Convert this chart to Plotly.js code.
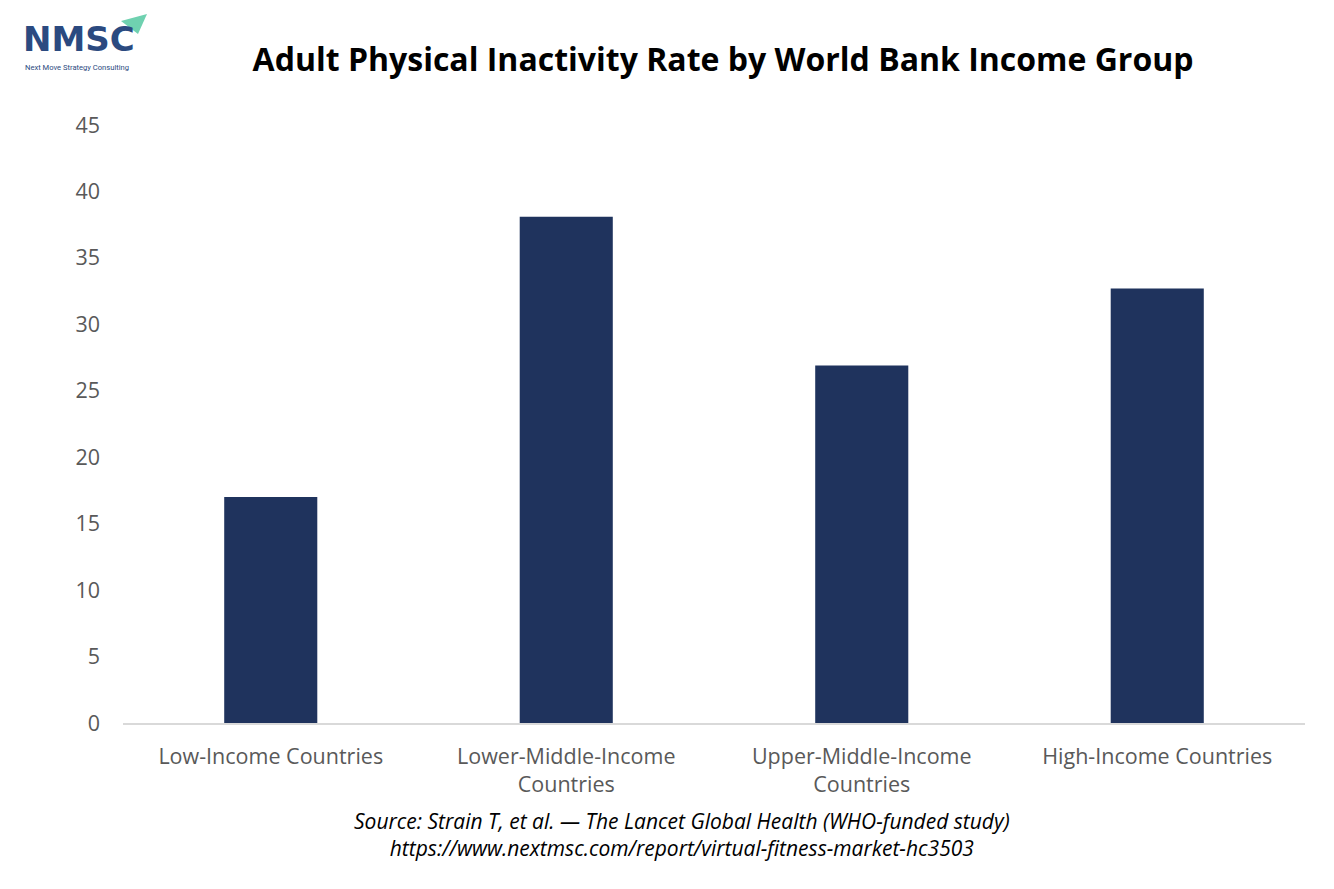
<!DOCTYPE html>
<html>
<head>
<meta charset="utf-8">
<script src="https://cdn.plot.ly/plotly-3.0.1.min.js"></script>
<style>html,body{margin:0;padding:0;background:#fff;}#chart{width:1334px;height:889px;}</style>
</head>
<body>
<div id="chart"></div>
<script>
const categories = [
  "Low-Income Countries",
  "Lower-Middle-Income<br>Countries",
  "Upper-Middle-Income<br>Countries",
  "High-Income Countries"
];
const inactivityRate = [17.0, 38.1, 26.9, 32.7];
const yTicks = [0, 5, 10, 15, 20, 25, 30, 35, 40, 45];
const titleText = "Adult Physical Inactivity Rate by World Bank Income Group";
const sourceLines = [
  "Source: Strain T, et al. — The Lancet Global Health (WHO-funded study)",
  "https://www.nextmsc.com/report/virtual-fitness-market-hc3503"
];

const trace = {
  type: "bar",
  x: categories,
  y: inactivityRate,
  marker: {color: "#1f335d"},
  hoverinfo: "x+y"
};

const layout = {
  width: 1334,
  height: 889,
  paper_bgcolor: "#ffffff",
  plot_bgcolor: "#ffffff",
  margin: {l: 123, r: 29, t: 125, b: 166},
  bargap: 0.685,
  showlegend: false,
  font: {family: "Open Sans, sans-serif", color: "#595959"},
  title: {
    text: "<b>" + titleText + "</b>",
    x: 0.542, xanchor: "center",
    y: 0.933, yanchor: "middle",
    font: {family: "Open Sans, sans-serif", size: 32, color: "#000000"}
  },
  xaxis: {
    type: "category",
    showgrid: false,
    zeroline: false,
    showline: true,
    linecolor: "#d9d9d9",
    linewidth: 1.5,
    ticks: "",
    tickfont: {size: 21.5, color: "#595959"},
    ticklabelstandoff: 14
  },
  yaxis: {
    range: [0, 45],
    tickvals: yTicks,
    showgrid: false,
    zeroline: false,
    showline: false,
    ticks: "",
    tickfont: {size: 21.5, color: "#595959"},
    ticklabelstandoff: 22
  },
  annotations: [
    {
      text: "<i>" + sourceLines[0] + "<br>" + sourceLines[1] + "</i>",
      xref: "paper", yref: "paper",
      x: (682 - 123) / 1182, y: -(834 - 723) / 598,
      xanchor: "center", yanchor: "middle",
      showarrow: false,
      align: "center",
      font: {family: "Open Sans, sans-serif", size: 21, color: "#000000"}
    },
    {
      text: "<b>NMSC</b>",
      xref: "paper", yref: "paper",
      x: -(123 - 21) / 1182, y: (723 - 39) / 598,
      xanchor: "left", yanchor: "middle",
      showarrow: false,
      font: {family: "DejaVu Sans, sans-serif", size: 34, color: "#2b4a80"}
    },
    {
      text: "Next Move Strategy Consulting",
      xref: "paper", yref: "paper",
      x: -(123 - 23) / 1182, y: (723 - 67) / 598,
      xanchor: "left", yanchor: "middle",
      showarrow: false,
      font: {family: "Roboto, sans-serif", size: 7.6, color: "#2b4a80"}
    }
  ],
  shapes: [
    {
      type: "path",
      xref: "paper", yref: "paper",
      path: "M " + (-(123 - 121) / 1182) + "," + ((723 - 21) / 598) +
            " L " + ((147 - 123) / 1182) + "," + ((723 - 14) / 598) +
            " L " + ((138 - 123) / 1182) + "," + ((723 - 34) / 598) + " Z",
      fillcolor: "#6fd1b0",
      line: {width: 0}
    }
  ]
};

Plotly.newPlot("chart", [trace], layout, {displayModeBar: false, staticPlot: true});
</script>
</body>
</html>
